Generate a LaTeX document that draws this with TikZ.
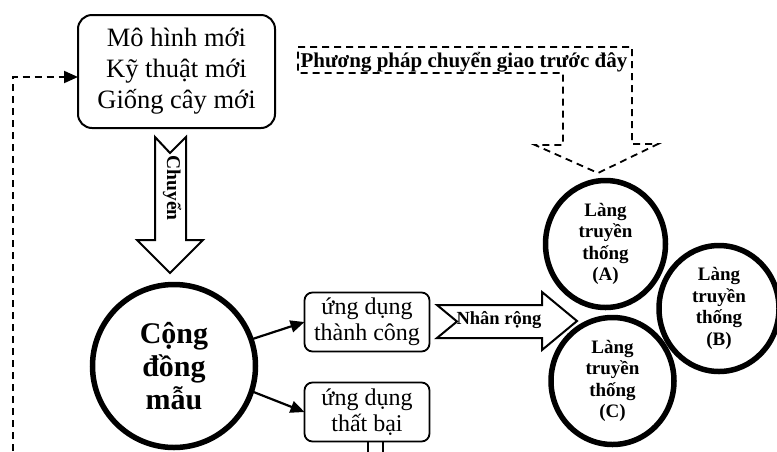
\documentclass[tikz,border=0pt]{standalone}
\usepackage{fontspec}
\setmainfont{Liberation Serif}
\usetikzlibrary{shapes.geometric,arrows.meta}
\begin{document}
\begin{tikzpicture}[x=1pt,y=-1pt,
  every node/.style={inner sep=0pt, outer sep=0pt},
  roundbox/.style={draw, line width=2pt, rounded corners=14pt, align=center},
  smallbox/.style={draw, line width=1.8pt, rounded corners=8pt, align=center,
    minimum width=125pt, minimum height=59pt, font=\fontsize{24}{26}\selectfont},
  village/.style={draw, ellipse, line width=5.5pt, align=center,
    font=\fontsize{19}{21.5}\selectfont\bfseries},
  blockarrow/.style={draw, line width=2pt, fill=white, line join=miter},
  dashedarrow/.style={draw, line width=1.8pt, dash pattern=on 7pt off 5pt},
  link/.style={line width=2.2pt, -{Triangle[length=14pt,width=12pt]}},
  feedback/.style={line width=2pt, dash pattern=on 7pt off 5pt,
    -{Triangle[length=14pt,width=12pt]}},
]
\useasboundingbox (0,0) rectangle (777,451);

% source of new practices
\node[roundbox, minimum width=197pt, minimum height=113pt,
  font=\fontsize{26.5}{31}\selectfont] (top) at (176.5,71.5)
  {Mô hình mới\\Kỹ thuật mới\\Giống cây mới};

% model community
\node[draw, circle, line width=5.5pt, minimum size=163pt, align=center,
  font=\fontsize{30}{33}\selectfont\bfseries] (cd) at (174,366)
  {Cộng\\đồng\\mẫu};

% outcomes
\node[smallbox] (succ) at (367,322) {ứng dụng\\thành công};
\node[smallbox] (fail) at (367,412) {ứng dụng\\thất bại};

% traditional villages
\node[village, minimum width=120pt, minimum height=127pt] (va) at (605.5,244)
  {Làng\\truyền\\thống\\(A)};
\node[village, minimum width=120pt, minimum height=126pt] (vb) at (719,308.5)
  {Làng\\truyền\\thống\\(B)};
\node[village, minimum width=123pt, minimum height=127pt] (vc) at (612.5,381)
  {Làng\\truyền\\thống\\(C)};

% transfer block arrow
\draw[blockarrow] (155,137) -- (170,153) -- (186,137) -- (186,240) -- (203,240)
  -- (170,273) -- (137,240) -- (155,240) -- cycle;
\node[rotate=-90, font=\fontsize{19.5}{19.5}\selectfont\bfseries] (chuyen) at (172,188) {Chuyển};

% replication block arrow
\draw[blockarrow] (437,305) -- (457,321.5) -- (437,338) -- (542,338) -- (542,350)
  -- (577,321) -- (542,292) -- (542,305) -- cycle;
\node[font=\fontsize{18.5}{18.5}\selectfont\bfseries] (nhan) at (499,320) {Nhân rộng};

% earlier transfer method (dashed bent arrow)
\draw[dashedarrow] (298,47) -- (632,47) -- (632,144) -- (658,144) -- (598,173)
  -- (535,145) -- (563,145) -- (563,73) -- (298,73) -- cycle;
\node[font=\fontsize{21}{21}\selectfont\bfseries] (old) at (464,62.5)
  {Phương pháp chuyển giao trước đây};

% connectors
\draw[link] (cd.19) -- (succ.west);
\draw[link] (cd.-18) -- (fail.west);

\coordinate (fbstart) at (12.5,451);
\draw[feedback] (fbstart) |- ([yshift=-5.5pt]top.west);

% stub below the failure box
\draw[line width=1.4pt] ([xshift=1pt]fail.south) -- ++(0,10);
\draw[line width=1.4pt] ([xshift=16pt]fail.south) -- ++(0,10);
\end{tikzpicture}
\end{document}
